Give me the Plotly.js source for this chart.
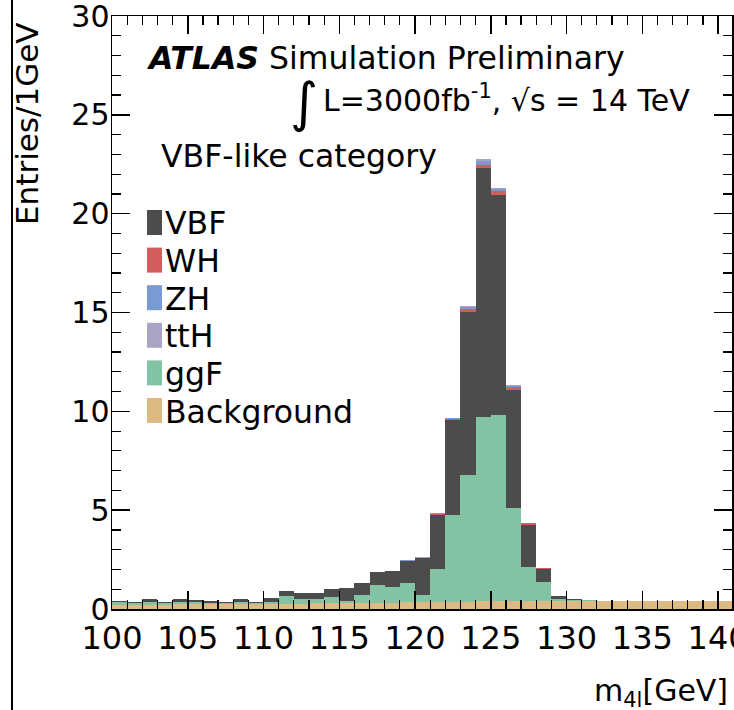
<!DOCTYPE html>
<html>
<head>
<meta charset="utf-8">
<script src="https://cdn.plot.ly/plotly-3.0.1.min.js"></script>
<style>html,body{margin:0;padding:0;background:#fff;}#chart{width:734px;height:710px;}</style>
</head>
<body>
<div id="chart"></div>
<script>
// bin centres of m4l (1 GeV bins, 100-141 GeV)
var binCentres = [100.5,101.5,102.5,103.5,104.5,105.5,106.5,107.5,108.5,109.5,
                  110.5,111.5,112.5,113.5,114.5,115.5,116.5,117.5,118.5,119.5,
                  120.5,121.5,122.5,123.5,124.5,125.5,126.5,127.5,128.5,129.5,
                  130.5,131.5,132.5,133.5,134.5,135.5,136.5,137.5,138.5,139.5,140.5];
var background = [0.22,0.22,0.22,0.22,0.23,0.23,0.23,0.24,0.24,0.24,
                  0.25,0.26,0.27,0.28,0.28,0.29,0.30,0.31,0.32,0.33,
                  0.34,0.35,0.36,0.37,0.38,0.38,0.39,0.39,0.40,0.40,
                  0.41,0.41,0.41,0.41,0.42,0.42,0.42,0.42,0.42,0.42,0.42];
var ggF = [0.15,0.08,0.11,0.08,0.13,0.12,0.09,0.05,0.09,0.06,
           0.09,0.38,0.25,0.24,0.32,0.10,0.42,0.89,0.80,0.98,
           0.38,1.68,4.39,6.43,9.32,9.44,4.70,1.71,0.96,0.10,
           0.04,0.06,0.01,0,0,0,0,0,0,0,0];
var VBF = [0.06,0.05,0.17,0.05,0.14,0.12,0.10,0.06,0.19,0.06,
           0.23,0.26,0.31,0.31,0.40,0.66,0.58,0.68,0.79,1.12,
           1.85,2.74,4.83,8.25,12.63,11.14,6.01,2.17,0.68,0.17,
           0.07,0,0,0,0,0,0,0,0,0,0];
var WH = [0,0,0,0,0,0,0,0,0,0,
          0,0,0,0,0,0,0,0.01,0.01,0.02,
          0.02,0.06,0.04,0.14,0.15,0.17,0.13,0.06,0.02,0.01,
          0,0,0,0,0,0,0,0,0,0,0];
var ZH = [0,0,0,0,0,0,0,0,0,0,
          0,0,0,0,0,0,0,0,0,0.01,
          0.01,0.02,0.02,0.08,0.20,0.12,0.07,0.02,0.01,0,
          0,0,0,0,0,0,0,0,0,0,0];
var ttH = [0,0,0,0,0,0,0,0,0,0,
           0,0,0,0,0,0,0,0,0,0,
           0.01,0.02,0.02,0.08,0.09,0.07,0.05,0.02,0.01,0,
           0,0,0,0,0,0,0,0,0,0,0];
var xTicks = [100,105,110,115,120,125,130,135,140];
var yTicks = [0,5,10,15,20,25,30];
var legendNames = ['VBF','WH','ZH','ttH','ggF','Background'];

var colors = {VBF:'#4c4c4c', WH:'#d35c5c', ZH:'#7a9ad4', ttH:'#a8a4c4', ggF:'#82c3a3', Background:'#ddb983'};

var stackOrder = [['Background',background],['ggF',ggF],['VBF',VBF],['WH',WH],['ZH',ZH],['ttH',ttH]];
var traces = stackOrder.map(function(s){
  return {type:'bar', x:binCentres, y:s[1], width:1, name:s[0],
          marker:{color:colors[s[0]], line:{width:0}}, showlegend:false, hoverinfo:'skip'};
});

var FONT = 'DejaVu Sans';
var L=112, R=2, T=16, B=101, W=734, H=710;
var pw = W-L-R, ph = H-T-B;
function xp(px){ return (px-L)/pw; }
function yp(py){ return (H-B-py)/ph; }

var shapes = [
  {type:'line', xref:'paper', yref:'paper', x0:xp(12), x1:xp(12), y0:yp(712), y1:yp(-2), line:{color:'black', width:2}}
];
var annotations = [
  {xref:'paper', yref:'paper', x:xp(144), y:yp(58), xanchor:'left', yanchor:'middle', showarrow:false,
   text:'<b><i>ATLAS</i></b> Simulation Preliminary', font:{family:FONT, size:31.5, color:'black'}},
  {xref:'paper', yref:'paper', x:xp(304), y:yp(103), xanchor:'center', yanchor:'middle', showarrow:false,
   text:'∫', font:{family:FONT, size:54, color:'black'}},
  {xref:'paper', yref:'paper', x:xp(321), y:yp(98), xanchor:'left', yanchor:'middle', showarrow:false,
   text:'L=3000fb<sup>-1</sup>, √s = 14 TeV', font:{family:FONT, size:30, color:'black'}},
  {xref:'paper', yref:'paper', x:xp(159), y:yp(156), xanchor:'left', yanchor:'middle', showarrow:false,
   text:'VBF-like category', font:{family:FONT, size:31.5, color:'black'}},
  {xref:'paper', yref:'paper', x:xp(730), y:yp(692), xanchor:'right', yanchor:'middle', showarrow:false,
   text:'m<sub>4l</sub>[GeV]', font:{family:FONT, size:30, color:'black'}},
  {xref:'paper', yref:'paper', x:xp(27), y:yp(21), xanchor:'center', yanchor:'top', showarrow:false, textangle:-90,
   text:'Entries/1GeV', font:{family:FONT, size:31, color:'black'}}
];
legendNames.forEach(function(n,i){
  var cy = 222.5 + 37.6*i;
  shapes.push({type:'rect', xref:'paper', yref:'paper', x0:xp(147), x1:xp(162), y0:yp(cy+12.5), y1:yp(cy-12.5),
               fillcolor:colors[n], line:{width:0}});
  annotations.push({xref:'paper', yref:'paper', x:xp(163), y:yp(cy+1), xanchor:'left', yanchor:'middle', showarrow:false,
                    text:n, font:{family:FONT, size:31.5, color:'black'}});
});

var layout = {
  width:W, height:H,
  margin:{l:L, r:R, t:T, b:B, pad:0},
  paper_bgcolor:'white', plot_bgcolor:'white',
  barmode:'stack', bargap:0,
  font:{family:FONT, color:'black'},
  xaxis:{range:[100,140.92], tickvals:xTicks, ticktext:xTicks.map(String), ticks:'inside', ticklen:18, tickwidth:1.5,
         tickcolor:'black', showline:true, linecolor:'black', linewidth:1.5, mirror:'ticks', showgrid:false, zeroline:false,
         minor:{ticks:'inside', dtick:1, tick0:100, ticklen:9, tickwidth:1.2, tickcolor:'black', showgrid:false},
         tickfont:{family:FONT, size:32, color:'black'}, ticklabeloverflow:'allow', layer:'above traces'},
  yaxis:{range:[0,30], tickvals:yTicks, ticktext:yTicks.map(String), ticks:'inside', ticklen:18, tickwidth:1.5,
         tickcolor:'black', showline:true, linecolor:'black', linewidth:1.5, mirror:'ticks', showgrid:false, zeroline:false,
         minor:{ticks:'inside', dtick:1, tick0:0, ticklen:9, tickwidth:1.2, tickcolor:'black', showgrid:false},
         tickfont:{family:FONT, size:30, color:'black'}, ticklabeloverflow:'allow', ticklabelstandoff:-5, layer:'above traces'},
  shapes:shapes,
  annotations:annotations
};
Plotly.newPlot('chart', traces, layout, {staticPlot:true, displayModeBar:false});
</script>
</body>
</html>
